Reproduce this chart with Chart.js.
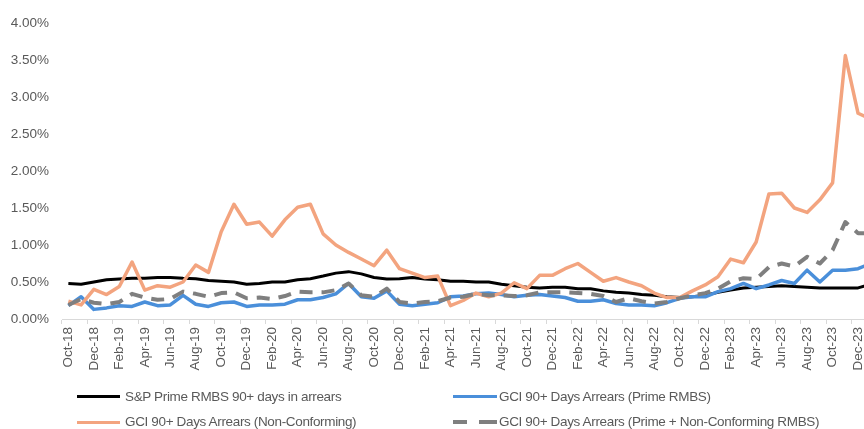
<!DOCTYPE html>
<html><head><meta charset="utf-8">
<script src="https://cdn.jsdelivr.net/npm/chart.js@4"></script>
<style>
html,body{margin:0;padding:0;background:#fff;overflow:hidden;width:864px;height:429px;}
#wrap{position:absolute;left:0;top:0;width:890px;height:429px;}
.leg{position:absolute;font-family:"Liberation Sans",Arial,sans-serif;font-size:13.5px;color:#595959;white-space:nowrap;letter-spacing:-0.35px;line-height:16px;}
.sw{position:absolute;}
</style></head>
<body>
<div id="wrap"><canvas id="c" width="890" height="429"></canvas></div>
<div id="legend"></div>
<script>
const months = ["Oct-18","Nov-18","Dec-18","Jan-19","Feb-19","Mar-19","Apr-19","May-19","Jun-19","Jul-19","Aug-19","Sep-19",
"Oct-19","Nov-19","Dec-19","Jan-20","Feb-20","Mar-20","Apr-20","May-20","Jun-20","Jul-20","Aug-20","Sep-20",
"Oct-20","Nov-20","Dec-20","Jan-21","Feb-21","Mar-21","Apr-21","May-21","Jun-21","Jul-21","Aug-21","Sep-21",
"Oct-21","Nov-21","Dec-21","Jan-22","Feb-22","Mar-22","Apr-22","May-22","Jun-22","Jul-22","Aug-22","Sep-22",
"Oct-22","Nov-22","Dec-22","Jan-23","Feb-23","Mar-23","Apr-23","May-23","Jun-23","Jul-23","Aug-23","Sep-23",
"Oct-23","Nov-23","Dec-23","Jan-24"];

const spPrime = [0.48,0.47,0.50,0.53,0.54,0.55,0.55,0.56,0.56,0.55,0.545,0.52,
0.51,0.50,0.47,0.48,0.50,0.50,0.53,0.545,0.58,0.62,0.64,0.61,
0.56,0.54,0.545,0.56,0.54,0.53,0.51,0.51,0.50,0.50,0.47,0.45,
0.43,0.42,0.43,0.43,0.41,0.41,0.38,0.36,0.35,0.33,0.32,0.30,
0.29,0.30,0.32,0.36,0.39,0.42,0.43,0.44,0.45,0.44,0.43,0.42,
0.42,0.42,0.42,0.47];

const gciPrime = [0.18,0.30,0.13,0.15,0.18,0.17,0.23,0.18,0.19,0.32,0.20,0.17,
0.22,0.23,0.17,0.19,0.19,0.20,0.26,0.26,0.29,0.34,0.48,0.30,
0.28,0.38,0.20,0.18,0.20,0.22,0.30,0.31,0.34,0.35,0.33,0.30,
0.32,0.33,0.31,0.29,0.24,0.24,0.26,0.21,0.19,0.19,0.18,0.22,
0.28,0.30,0.30,0.37,0.41,0.48,0.41,0.46,0.52,0.48,0.66,0.50,
0.66,0.66,0.68,0.75];

const gciNonConforming = [0.24,0.19,0.40,0.33,0.44,0.77,0.39,0.45,0.43,0.50,0.73,0.63,
1.18,1.55,1.28,1.31,1.12,1.34,1.51,1.55,1.15,1.00,0.90,0.81,
0.72,0.93,0.68,0.62,0.56,0.58,0.18,0.25,0.35,0.30,0.35,0.49,
0.41,0.59,0.59,0.68,0.75,0.63,0.51,0.56,0.50,0.45,0.35,0.29,
0.29,0.38,0.46,0.57,0.81,0.76,1.04,1.69,1.70,1.50,1.44,1.61,
1.84,3.56,2.78,2.70];

const gciCombined = [0.19,0.27,0.22,0.20,0.23,0.34,0.29,0.26,0.27,0.37,0.34,0.30,
0.35,0.36,0.28,0.29,0.27,0.31,0.37,0.36,0.36,0.39,0.48,0.32,
0.30,0.41,0.23,0.21,0.23,0.24,0.29,0.30,0.34,0.32,0.32,0.31,
0.32,0.36,0.36,0.36,0.35,0.34,0.31,0.23,0.28,0.24,0.21,0.23,
0.28,0.32,0.35,0.41,0.51,0.55,0.54,0.70,0.75,0.71,0.84,0.75,
0.93,1.31,1.16,1.16];

const yTicks = [0,0.5,1.0,1.5,2.0,2.5,3.0,3.5,4.0];

const seriesNames = ["S&P Prime RMBS 90+ days in arrears","GCI 90+ Days Arrears (Prime RMBS)",
"GCI 90+ Days Arrears (Non-Conforming)","GCI 90+ Days Arrears (Prime + Non-Conforming RMBS)"];
const seriesColors = ["#000000","#4A8FDA","#F3A47F","#7F7F7F"];

const FONT = '"Liberation Sans", Arial, sans-serif';
const TXT = '#595959';

new Chart(document.getElementById('c'), {
  type: 'line',
  data: {
    labels: months,
    datasets: [
      {label: seriesNames[0], data: spPrime, borderColor: seriesColors[0], borderWidth: 3, order: 3},
      {label: seriesNames[1], data: gciPrime, borderColor: seriesColors[1], borderWidth: 3.5, order: 2},
      {label: seriesNames[2], data: gciNonConforming, borderColor: seriesColors[2], borderWidth: 3.5, order: 1},
      {label: seriesNames[3], data: gciCombined, borderColor: seriesColors[3], borderWidth: 4, borderDash: [13, 9], order: 0}
    ]
  },
  options: {
    responsive: false,
    animation: false,
    layout: {padding: {top: 23, left: 0, right: 0, bottom: 50}},
    elements: {point: {radius: 0}, line: {tension: 0, borderJoinStyle: 'round', fill: false}},
    plugins: {legend: {display: false}, tooltip: {enabled: false}},
    scales: {
      x: {
        offset: true,
        grid: {offset: true, drawOnChartArea: false, drawTicks: true, tickLength: 5,
               color: (c) => (c.index % 2 === 0 ? '#D9D9D9' : 'rgba(0,0,0,0)')},
        border: {display: true, color: '#D9D9D9', width: 1},
        ticks: {autoSkip: false, maxRotation: 90, minRotation: 90, padding: 3, color: TXT,
                font: {family: FONT, size: 13.5},
                callback: (v, i) => (i % 2 === 0 ? months[i] : '')},
        afterFit: (s) => { s.height = 60; }
      },
      y: {
        min: 0, max: 4,
        afterBuildTicks: (s) => { s.ticks = yTicks.map(v => ({value: v})); },
        ticks: {padding: 13, color: TXT, font: {family: FONT, size: 13.5},
                callback: (v) => v.toFixed(2) + '%'},
        grid: {display: false, drawTicks: false},
        border: {display: false},
        afterFit: (s) => { s.width = 62; }
      }
    }
  }
});

// legend (two columns, two rows)
const legendLayout = [
  {i: 0, sx: 77, sw: 43, tx: 125, cy: 396.5},
  {i: 1, sx: 453, sw: 44, tx: 499, cy: 396.5},
  {i: 2, sx: 77, sw: 43, tx: 125, cy: 422},
  {i: 3, sx: 453, sw: 44, tx: 499, cy: 422}
];
const lg = document.getElementById('legend');
legendLayout.forEach(L => {
  if (L.i === 3) {
    [[0, 14], [26, 18]].forEach(([o, w]) => {
      const d = document.createElement('div');
      d.className = 'sw';
      d.style.cssText = `left:${L.sx + o}px;top:${L.cy - 2}px;width:${w}px;height:4px;background:${seriesColors[3]}`;
      lg.appendChild(d);
    });
  } else {
    const d = document.createElement('div');
    d.className = 'sw';
    d.style.cssText = `left:${L.sx}px;top:${L.cy - 1.5}px;width:${L.sw}px;height:3px;background:${seriesColors[L.i]}`;
    lg.appendChild(d);
  }
  const t = document.createElement('div');
  t.className = 'leg';
  t.style.left = L.tx + 'px';
  t.style.top = (L.cy - 8) + 'px';
  t.textContent = seriesNames[L.i];
  lg.appendChild(t);
});
</script>
</body></html>
